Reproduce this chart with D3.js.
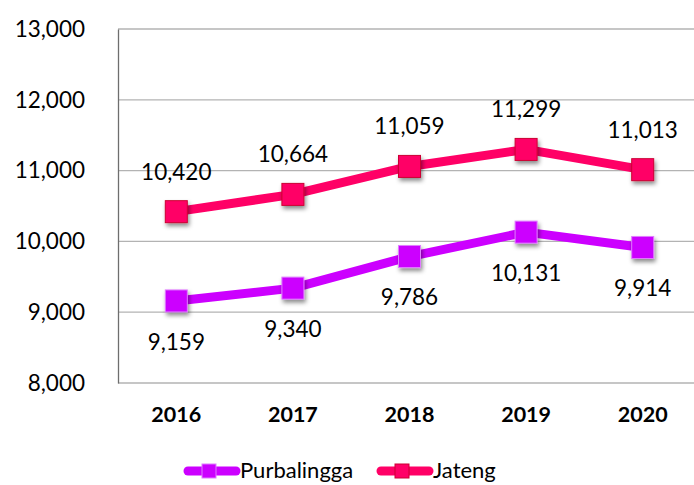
<!DOCTYPE html>
<html>
<head>
<meta charset="utf-8">
<script src="https://cdn.jsdelivr.net/npm/d3@7"></script>
<style>
  body { margin: 0; background: #fff; }
  svg { display: block; font-family: Lato, "Open Sans", sans-serif; }
</style>
</head>
<body>
<svg width="694" height="485"></svg>
<script>
const width = 694;
const height = 485;

var years = ["2016", "2017", "2018", "2019", "2020"];
var purbalingga = [9159, 9340, 9786, 10131, 9914];
var jateng = [10420, 10664, 11059, 11299, 11013];
var yTicks = [8000, 9000, 10000, 11000, 12000, 13000];

var series = [
  { name: "Purbalingga", values: purbalingga, color: "#CC00FF", edge: "#e07bff", labelDy: 41 },
  { name: "Jateng", values: jateng, color: "#FF0066", edge: "#cc0033", labelDy: -40 }
];

var svg = d3.select("svg");

var x = d3.scaleBand().domain(years).range([118, 701]);
var y = d3.scaleLinear().domain([8000, 13000]).range([383, 29]);
var fmt = d3.format(",");

var defs = svg.append("defs");
var filter = defs.append("filter").attr("id", "shadow")
  .attr("x", "-50%").attr("y", "-50%").attr("width", "200%").attr("height", "200%");
filter.append("feDropShadow").attr("dx", 1.5).attr("dy", 3).attr("stdDeviation", 2)
  .attr("flood-color", "#000").attr("flood-opacity", 0.45);

// grid
svg.append("g").selectAll("line").data(yTicks).join("line")
  .attr("x1", 118).attr("x2", width)
  .attr("y1", d => y(d)).attr("y2", d => y(d))
  .attr("stroke", "#b3b3b3").attr("stroke-width", 1.3);

// y axis
var yAxis = svg.append("g").attr("transform", "translate(118,0)")
  .call(d3.axisLeft(y).tickValues(yTicks).tickFormat(fmt).tickSize(0).tickPadding(33));
yAxis.select(".domain").attr("stroke", "#6e6e6e").attr("stroke-width", 1.3);
yAxis.selectAll("text").attr("font-size", 22.5).attr("fill", "#000")
  .attr("font-family", "Lato, sans-serif");

// x axis
var xAxis = svg.append("g").attr("transform", "translate(0,383)")
  .call(d3.axisBottom(x).tickSize(0).tickPadding(24));
xAxis.select(".domain").remove();
xAxis.selectAll("text").attr("font-size", 21.5).attr("font-weight", "bold").attr("fill", "#000")
  .attr("font-family", "Lato, sans-serif");

var line = d3.line()
  .x((d, i) => x(years[i]) + x.bandwidth() / 2)
  .y(d => y(d));

series.forEach(function (s) {
  var g = svg.append("g");
  g.append("path").datum(s.values)
    .attr("d", line)
    .attr("fill", "none")
    .attr("stroke", s.color)
    .attr("stroke-width", 9)
    .attr("stroke-linejoin", "round")
    .attr("stroke-linecap", "round");

  g.selectAll("rect").data(s.values).join("rect")
    .attr("x", (d, i) => x(years[i]) + x.bandwidth() / 2 - 11)
    .attr("y", d => y(d) - 11)
    .attr("width", 22).attr("height", 22)
    .attr("fill", s.color)
    .attr("stroke", s.edge).attr("stroke-width", 1)
    .attr("filter", "url(#shadow)");

  g.selectAll("text").data(s.values).join("text")
    .attr("x", (d, i) => x(years[i]) + x.bandwidth() / 2)
    .attr("y", d => y(d) + s.labelDy)
    .attr("dy", "0.35em")
    .attr("text-anchor", "middle")
    .attr("font-size", 22.5)
    .attr("fill", "#000")
    .text(d => fmt(d));
});

// legend
var legendItems = [
  { s: series[0], x: 185 },
  { s: series[1], x: 378 }
];
legendItems.forEach(function (l) {
  var g = svg.append("g").attr("transform", "translate(" + l.x + ",471)");
  g.append("line").attr("x1", 3).attr("x2", 51).attr("y1", 0).attr("y2", 0)
    .attr("stroke", l.s.color).attr("stroke-width", 9).attr("stroke-linecap", "round");
  g.append("rect").attr("x", 17).attr("y", -7).attr("width", 14).attr("height", 14)
    .attr("fill", l.s.color).attr("stroke", l.s.edge).attr("stroke-width", 1);
  g.append("text").attr("x", 55).attr("y", 0).attr("dy", "0.32em")
    .attr("font-size", 22).attr("fill", "#000").text(l.s.name);
});
</script>
</body>
</html>
